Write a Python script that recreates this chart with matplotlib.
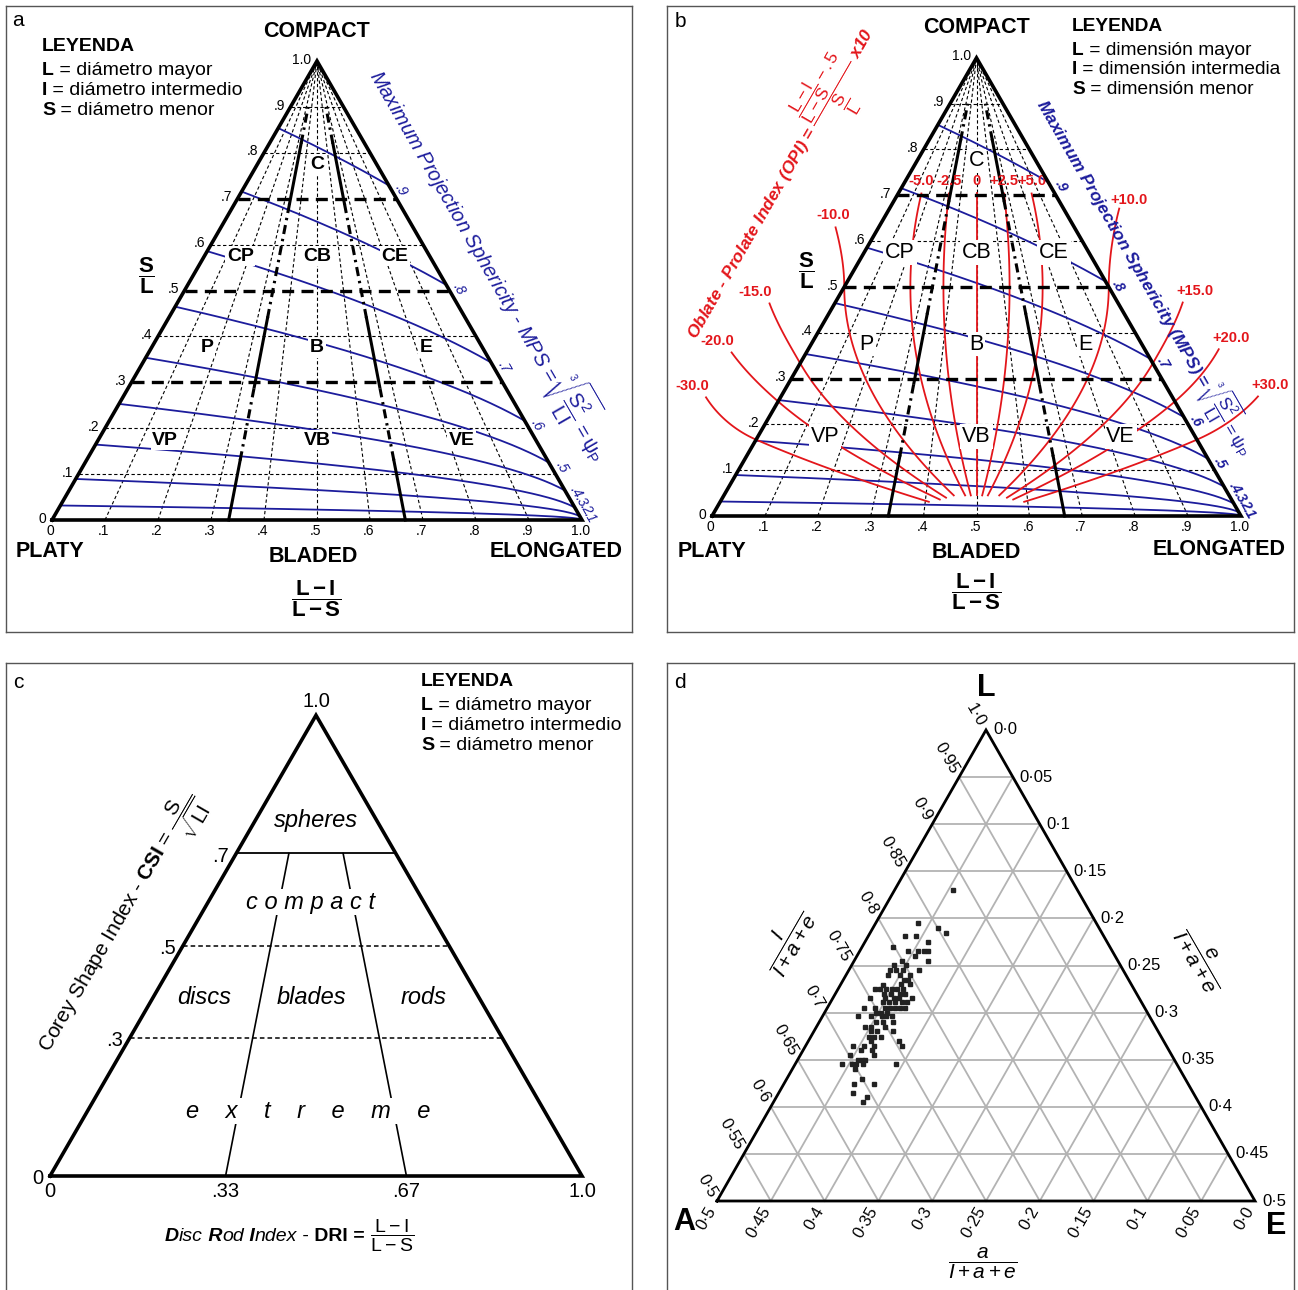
import numpy as np
import matplotlib
matplotlib.use('Agg')
import matplotlib.pyplot as plt
from matplotlib.transforms import offset_copy

plt.rcParams['font.family'] = ['Liberation Sans', 'DejaVu Sans']
plt.rcParams['mathtext.fontset'] = 'custom'
plt.rcParams['mathtext.rm'] = 'Liberation Sans'
plt.rcParams['mathtext.it'] = 'Liberation Sans:italic'
plt.rcParams['mathtext.bf'] = 'Liberation Sans:bold'
plt.rcParams['mathtext.sf'] = 'Liberation Sans'
plt.rcParams['mathtext.default'] = 'rm'

# ------------------------------
# data
# ------------------------------
# panels a, b: Sneed & Folk diagram, DRI = (L-I)/(L-S) along base, S/L upward
dri_grid = [0.1, 0.2, 0.3, 0.4, 0.5, 0.6, 0.7, 0.8, 0.9]
sl_dotted = [0.1, 0.2, 0.4, 0.6, 0.8, 0.9]
sl_bounds = [0.3, 0.5, 0.7]
dri_bounds = [1 / 3, 2 / 3]
bound_solid = [(0.0, 0.13), (0.29, 0.44), (0.69, 0.82)]
bound_dashdot = [(0.13, 0.29), (0.44, 0.69), (0.82, 0.90)]
tick_vals = [0.0, 0.1, 0.2, 0.3, 0.4, 0.5, 0.6, 0.7, 0.8, 0.9, 1.0]
tick_labels = ['0', '.1', '.2', '.3', '.4', '.5', '.6', '.7', '.8', '.9', '1.0']

mps_levels = [0.1, 0.2, 0.3, 0.4, 0.5, 0.6, 0.7, 0.8, 0.9]
mps_labels = ['.1', '.2', '.3', '.4', '.5', '.6', '.7', '.8', '.9']
mps_label_sl = [0.016, 0.032, 0.05, 0.07, 0.125, 0.216, 0.343, 0.512, 0.729]

classes = ['C', 'CP', 'CB', 'CE', 'P', 'B', 'E', 'VP', 'VB', 'VE']
class_dri = [0.5, 0.16, 0.5, 0.845, 0.168, 0.5, 0.83, 0.153, 0.5, 0.83]
class_sl = [0.775, 0.575, 0.575, 0.575, 0.375, 0.375, 0.375, 0.174, 0.174, 0.174]

opi_vals = [-30, -20, -15, -10, -5, -2.5, 0, 2.5, 5, 10, 15, 20, 30]
opi_labels = ['-30.0', '-20.0', '-15.0', '-10.0', '-5.0', '-2.5', '0',
              '+2.5', '+5.0', '+10.0', '+15.0', '+20.0', '+30.0']
opi_sl_low = [0.031, 0.036, 0.04, 0.045, 0.045, 0.045, 0.045,
              0.045, 0.045, 0.045, 0.04, 0.036, 0.031]
opi_sl_top = [0.259, 0.357, 0.464, 0.630, 0.704, 0.704, 0.704,
              0.704, 0.704, 0.671, 0.466, 0.364, 0.261]
opi_dri_top = [-0.19, -0.22, -0.23, -0.22, 0.148, 0.324, 0.5,
               0.676, 0.852, 1.32, 1.23, 1.22, 1.22]

legend_a = [('L', ' = diámetro mayor'), ('I', ' = diámetro intermedio'), ('S', ' = diámetro menor')]
legend_b = [('L', ' = dimensión mayor'), ('I', ' = dimensión intermedia'), ('S', ' = dimensión menor')]

# panel c: Corey Shape Index vs Disc Rod Index
csi_solid = [0.7]
csi_dashed = [0.5, 0.3]
csi_ticks = [0.0, 0.3, 0.5, 0.7]
csi_tick_labels = ['0', '.3', '.5', '.7']
c_dri_lines = [0.33, 0.67]
c_dri_ticks = [0.0, 0.33, 0.67, 1.0]
c_dri_tick_labels = ['0', '.33', '.67', '1.0']

# panel d: ternary I / a / e (upper half, I >= 0.5)
tern_grid = [0.05, 0.1, 0.15, 0.2, 0.25, 0.3, 0.35, 0.4, 0.45]
tern_ticks = [0.5, 0.55, 0.6, 0.65, 0.7, 0.75, 0.8, 0.85, 0.9, 0.95, 1.0]
pts_I = [0.830, 0.795, 0.790, 0.785, 0.781, 0.781, 0.775, 0.770,
         0.765, 0.765, 0.765, 0.765, 0.760, 0.755, 0.755, 0.751, 0.751,
         0.745, 0.745, 0.745, 0.745, 0.740, 0.740, 0.740, 0.735, 0.735,
         0.730, 0.730, 0.729,
         0.725, 0.725, 0.725, 0.725, 0.725, 0.725,
         0.720, 0.720, 0.720, 0.720,
         0.715, 0.715, 0.715, 0.715, 0.715,
         0.711, 0.711, 0.711, 0.711, 0.711,
         0.705, 0.705, 0.705, 0.705, 0.705, 0.705, 0.705,
         0.700, 0.700, 0.700,
         0.696, 0.696, 0.696, 0.696, 0.696,
         0.690, 0.690, 0.690, 0.685, 0.685, 0.685,
         0.680, 0.680, 0.680, 0.674, 0.674, 0.674, 0.670, 0.670,
         0.665, 0.665, 0.665, 0.665, 0.660, 0.660, 0.655, 0.655,
         0.650, 0.650, 0.650, 0.645, 0.645, 0.645, 0.645, 0.645,
         0.640, 0.630, 0.624, 0.624, 0.615, 0.610, 0.605]
pts_E = [0.054, 0.039, 0.060, 0.070, 0.034, 0.044, 0.059, 0.029,
         0.045, 0.054, 0.060, 0.064, 0.054, 0.044, 0.069, 0.039, 0.050,
         0.038, 0.044, 0.050, 0.065, 0.039, 0.050, 0.059, 0.056, 0.060,
         0.056, 0.064, 0.040,
         0.034, 0.039, 0.045, 0.050, 0.055, 0.060,
         0.045, 0.052, 0.060, 0.065,
         0.0345, 0.049, 0.057, 0.062, 0.074,
         0.049, 0.054, 0.060, 0.066, 0.071,
         0.034, 0.044, 0.054, 0.058, 0.063, 0.068, 0.072,
         0.048, 0.052, 0.058,
         0.0335, 0.045, 0.055, 0.059, 0.065,
         0.053, 0.059, 0.069, 0.045, 0.051, 0.064,
         0.053, 0.0585, 0.074, 0.054, 0.059, 0.065, 0.058, 0.0845,
         0.044, 0.054, 0.063, 0.089, 0.054, 0.064, 0.046, 0.068,
         0.0565, 0.060, 0.063, 0.044, 0.0525, 0.057, 0.063, 0.094,
         0.058, 0.070, 0.065, 0.084, 0.069, 0.084, 0.0835]

# ------------------------------
# layout / style
# ------------------------------
W, H = 1298, 1290
SQ = np.sqrt(3) / 2
BLUE = '#1c1c9c'
RED = '#e3161b'
GREY = '#b3b3b3'
WHITE_BOX = dict(facecolor='white', edgecolor='none', boxstyle='square,pad=0.08')


def tri(d, s):
    d = np.asarray(d, dtype=float)
    s = np.asarray(s, dtype=float)
    return d * (1 - s) + s / 2, s * SQ


def tern(I, E):
    ip = (np.asarray(I, dtype=float) - 0.5) / 0.5
    ep = np.asarray(E, dtype=float) / 0.5
    return ep + ip / 2, ip * SQ


def make_panel(fig, box, origin, ux, uy):
    l, t, r, b = box
    ax = fig.add_axes([l / W, 1 - b / H, (r - l) / W, (b - t) / H])
    ox, oy = origin
    ax.set_xlim((l - ox) / ux, (r - ox) / ux)
    ax.set_ylim((oy - b) / uy, (oy - t) / uy)
    ax.set_xticks([])
    ax.set_yticks([])
    for sp in ax.spines.values():
        sp.set_color('#555555')
        sp.set_linewidth(1)

    def pix(px, py):
        return (px - ox) / ux, (oy - py) / uy
    return ax, pix


def rich(ax, xy, parts, **kw):
    r = ax.figure.canvas.get_renderer()
    tr = ax.transData
    for s, st in parts:
        t = ax.text(xy[0], xy[1], s, transform=tr, ha='left', va='baseline', **kw, **st)
        w = t.get_window_extent(renderer=r).width
        tr = offset_copy(tr, x=w, y=0, units='dots')


def legend(ax, pix, x, y0, rows, size, dy):
    ax.text(*pix(x, y0), 'LEYENDA', fontsize=size, weight='bold', ha='left', va='center')
    for i, (k, v) in enumerate(rows):
        rich(ax, pix(x, y0 + 28 + i * dy), [(k, {'weight': 'bold'}), (v, {})], fontsize=size)


def sneed_folk(ax, panel_b):
    thin = dict(color='black', lw=0.8, ls=(0, (3, 2.2)), zorder=1)
    for d in dri_grid:
        ax.plot(*tri([d, d], [0, 1]), **thin)
    for s in sl_dotted:
        ax.plot(*tri([0, 1], [s, s]), **thin)
    for s in sl_bounds:
        ax.plot(*tri([0, 1], [s, s]), color='black', lw=2.4, ls=(0, (3.6, 2.2)), zorder=3)
    for d in dri_bounds:
        for a0, a1 in bound_solid:
            ax.plot(*tri([d, d], [a0, a1]), color='black', lw=2.2, zorder=3)
        for a0, a1 in bound_dashdot:
            ax.plot(*tri([d, d], [a0, a1]), color='black', lw=2.2,
                    ls=(0, (3, 1.6, 0.8, 1.6)), zorder=3)
    dd = np.linspace(0, 1, 200)
    for p in mps_levels:
        s = (p ** 3 * dd + np.sqrt(p ** 6 * dd ** 2 + 4 * p ** 3 * (1 - dd))) / 2
        ax.plot(*tri(dd, s), color=BLUE, lw=1.3, zorder=2)
    ax.plot(*tri([0, 1, 0, 0], [0, 0, 1, 0]), color='black', lw=2.6, zorder=4,
            solid_joinstyle='miter')
    for v, lab in zip(tick_vals, tick_labels):
        ax.annotate(lab, tri(0, v), xytext=(-4, 1), textcoords='offset points',
                    ha='right', va='center', fontsize=10)
        ax.annotate(lab, tri(v, 0), xytext=(-1, -8), textcoords='offset points',
                    ha='center', va='center', fontsize=10)
    mstyle = dict(style='italic', weight='bold') if panel_b else dict(style='italic')
    for lab, s in zip(mps_labels, mps_label_sl):
        ax.annotate(lab, tri(1, s), xytext=(9, -3), textcoords='offset points',
                    rotation=-60, ha='center', va='center', color=BLUE, fontsize=10, **mstyle)
    cstyle = dict(fontsize=15.5) if panel_b else dict(fontsize=14, weight='bold')
    for name, d, s in zip(classes, class_dri, class_sl):
        ax.text(*tri(d, s), name, ha='center', va='center', bbox=WHITE_BOX, zorder=6, **cstyle)


fig = plt.figure(figsize=(W / 100, H / 100), dpi=100)

# ------------------------------
# panel a
# ------------------------------
ax, pix = make_panel(fig, (6, 6, 632, 632), (52, 520), 530, 530)
sneed_folk(ax, False)
ax.text(*pix(18, 21), 'a', fontsize=15, ha='center', va='center')
legend(ax, pix, 42, 47, legend_a, 14, 20)
ax.text(*pix(316, 32), 'COMPACT', fontsize=15.5, weight='bold', ha='center', va='center')
ax.text(*pix(146, 276), r'$\dfrac{\mathbf{S}}{\mathbf{L}}$', fontsize=16, ha='center', va='center')
ax.text(*pix(50, 552), 'PLATY', fontsize=15.5, weight='bold', ha='center', va='center')
ax.text(*pix(313, 557), 'BLADED', fontsize=15.5, weight='bold', ha='center', va='center')
ax.text(*pix(556, 552), 'ELONGATED', fontsize=15.5, weight='bold', ha='center', va='center')
ax.text(*pix(316, 599), r'$\dfrac{\mathbf{L - I}}{\mathbf{L - S}}$', fontsize=16,
        ha='center', va='center')
ax.text(*pix(368, 76), r'Maximum Projection Sphericity - MPS = $\sqrt[3]{\dfrac{S^2}{LI}} = \psi_P$',
        rotation=-60, rotation_mode='anchor', ha='left', va='baseline',
        fontsize=14.5, style='italic', color=BLUE)

# ------------------------------
# panel b
# ------------------------------
ax, pix = make_panel(fig, (667, 6, 1294, 632), (712, 516), 529, 529)
sneed_folk(ax, True)
for k, lab, s0, s1, d1 in zip(opi_vals, opi_labels, opi_sl_low, opi_sl_top, opi_dri_top):
    k10 = k / 10
    if d1 < 0:
        sc = -0.5 / k10
    elif d1 > 1:
        sc = 0.5 / k10
    else:
        sc = s1
    s = np.linspace(s0, sc, 80)
    d = 0.5 + k10 * s
    if sc < s1:
        # part outside the triangle, bent towards the label
        p0 = np.array([d[-1], sc])
        p2 = np.array([d1, s1])
        tang = np.array([k10, 1.0]) / np.hypot(k10, 1.0)
        p1 = p0 + tang * 0.4 * np.hypot(*(p2 - p0))
        t = np.linspace(0, 1, 30)[1:, None]
        bez = (1 - t) ** 2 * p0 + 2 * (1 - t) * t * p1 + t ** 2 * p2
        d = np.concatenate([d, bez[:, 0]])
        s = np.concatenate([s, bez[:, 1]])
    ax.plot(*tri(d, s), color=RED, lw=1.3, zorder=2.5)
    off = (0, 9) if abs(k) <= 5 else ((-10, 8) if k < -10 else ((9, 8) if k > 10 else ((-2, 9) if k < 0 else (7, 6))))
    ax.annotate(lab, tri(d1, s1), xytext=off, textcoords='offset points', ha='center',
                va='center', color=RED, fontsize=10.5, weight='bold')
ax.text(*pix(680, 22), 'b', fontsize=15, ha='center', va='center')
legend(ax, pix, 1072, 27, legend_b, 13.8, 19.5)
ax.text(*pix(977, 28), 'COMPACT', fontsize=15.5, weight='bold', ha='center', va='center')
ax.text(*pix(806, 271), r'$\dfrac{\mathbf{S}}{\mathbf{L}}$', fontsize=16, ha='center', va='center')
ax.text(*pix(712, 552), 'PLATY', fontsize=15.5, weight='bold', ha='center', va='center')
ax.text(*pix(976, 553), 'BLADED', fontsize=15.5, weight='bold', ha='center', va='center')
ax.text(*pix(1219, 550), 'ELONGATED', fontsize=15.5, weight='bold', ha='center', va='center')
ax.text(*pix(976, 592), r'$\dfrac{\mathbf{L - I}}{\mathbf{L - S}}$', fontsize=16,
        ha='center', va='center')
ax.text(*pix(1035, 104), r'Maximum Projection Sphericity (MPS) = $\sqrt[3]{\dfrac{S^2}{LI}} = \psi_P$',
        rotation=-60, rotation_mode='anchor', ha='left', va='baseline',
        fontsize=12.5, style='italic', weight='bold', color=BLUE)
ax.text(*pix(697, 340),
        r'Oblate - Prolate Index (OPI) = $\dfrac{\dfrac{L - I}{L - S} - .5}{\dfrac{S}{L}}$ x10',
        rotation=60, rotation_mode='anchor', ha='left', va='baseline',
        fontsize=12.5, style='italic', weight='bold', color=RED)

# ------------------------------
# panel c
# ------------------------------
ax, pix = make_panel(fig, (6, 663, 632, 1292), (50, 1176), 532, 532)
for s in csi_solid:
    ax.plot(*tri([0, 1], [s, s]), color='black', lw=1.3, zorder=2)
for s in csi_dashed:
    ax.plot(*tri([0, 1], [s, s]), color='black', lw=1.1, ls=(0, (3, 2)), zorder=2)
for d in c_dri_lines:
    ax.plot(*tri([d, d], [0, 0.7]), color='black', lw=1.2, zorder=2)
ax.plot(*tri([0, 1, 0, 0], [0, 0, 1, 0]), color='black', lw=2.6, zorder=4, solid_joinstyle='miter')
for v, lab in zip(csi_ticks, csi_tick_labels):
    ax.annotate(lab, tri(0, v), xytext=(-5, -2), textcoords='offset points',
                ha='right', va='center', fontsize=14.5)
ax.annotate('1.0', tri(0, 1), xytext=(0, 3), textcoords='offset points',
            ha='center', va='bottom', fontsize=14.5)
for v, lab in zip(c_dri_ticks, c_dri_tick_labels):
    ax.annotate(lab, tri(v, 0), xytext=(0, -11), textcoords='offset points',
                ha='center', va='center', fontsize=14.5)
it = dict(fontsize=17, style='italic', ha='center', va='center', bbox=WHITE_BOX, zorder=6)
ax.text(*pix(316, 821), 'spheres', **it)
ax.text(*pix(311, 902), 'c o m p a c t', **it)
ax.text(*pix(204, 998), 'discs', **it)
ax.text(*pix(311, 998), 'blades', **it)
ax.text(*pix(424, 998), 'rods', **it)
ax.text(*pix(308, 1111), 'e    x    t    r    e    m    e', **it)
ax.text(*pix(18, 683), 'c', fontsize=15, ha='center', va='center')
legend(ax, pix, 421, 682, legend_a, 14, 20)
ax.text(*pix(50, 1053), r'Corey Shape Index - $\mathbf{CSI}$ = $\dfrac{S}{\sqrt{LI}}$',
        rotation=60, rotation_mode='anchor', ha='left', va='baseline', fontsize=15)
bi = {'weight': 'bold', 'style': 'italic'}
itl = {'style': 'italic'}
rich(ax, pix(165, 1241), [('D', bi), ('isc', itl), (' R', bi), ('od', itl), (' I', bi),
                          ('ndex', itl), (' -', {}), (' DRI', {'weight': 'bold'}),
                          (' =', {'weight': 'bold'}), (r' $\dfrac{L - I}{L - S}$', {})],
     fontsize=14)

# ------------------------------
# panel d
# ------------------------------
ax, pix = make_panel(fig, (667, 663, 1294, 1292), (717, 1201), 538, 471 / SQ)
gl = dict(color=GREY, lw=1.3, zorder=1)
for v in tern_grid:
    ax.plot(*tern([0.5 + v, 0.5 + v], [0, 0.5 - v]), **gl)   # constant I
    ax.plot(*tern([0.5, 1 - v], [v, v]), **gl)               # constant e
    ax.plot(*tern([0.5, 1 - v], [0.5 - v, 0]), **gl)         # constant a
ax.plot(*tern([0.5, 0.5, 1.0, 0.5], [0, 0.5, 0, 0]), color='black', lw=2, zorder=3,
        solid_joinstyle='miter')
ax.plot(*tern(pts_I, pts_E), ls='none', marker='s', ms=2.4, color='#222222', zorder=4)


def dot_label(v):
    s = f'{v:.2f}'
    if s.endswith('0'):
        s = s[:-1]
    return s.replace('.', '·')


for v in tern_ticks:
    ax.annotate(dot_label(v), tern(v, 0), xytext=(-3, 3.5), textcoords='offset points',
                rotation=-60, rotation_mode='anchor', ha='right', va='center', fontsize=12)
    e = 1 - v
    ax.annotate(dot_label(e), tern(v, e), xytext=(5, 0), textcoords='offset points',
                ha='left', va='center', fontsize=12)
    a = v - 0.5
    ax.annotate(dot_label(a), tern(0.5, 0.5 - a), xytext=(-3, -5), textcoords='offset points',
                rotation=60, rotation_mode='anchor', ha='right', va='center', fontsize=12)
ax.text(*pix(680, 683), 'd', fontsize=15, ha='center', va='center')
ax.text(*pix(986, 688), 'L', fontsize=22, weight='bold', ha='center', va='center')
ax.text(*pix(684, 1222), 'A', fontsize=22, weight='bold', ha='center', va='center')
ax.text(*pix(1276, 1226), 'E', fontsize=22, weight='bold', ha='center', va='center')
ax.text(*pix(787, 940), r'$\dfrac{\mathit{I}}{\mathit{I + a + e}}$', rotation=60,
        fontsize=15, ha='center', va='center')
ax.text(*pix(1202, 958), r'$\dfrac{\mathit{e}}{\mathit{I + a + e}}$', rotation=-60,
        fontsize=15, ha='center', va='center')
ax.text(*pix(983, 1263), r'$\dfrac{\mathit{a}}{\mathit{I + a + e}}$',
        fontsize=15, ha='center', va='center')

fig.savefig('out.png', dpi=100, facecolor='white')
